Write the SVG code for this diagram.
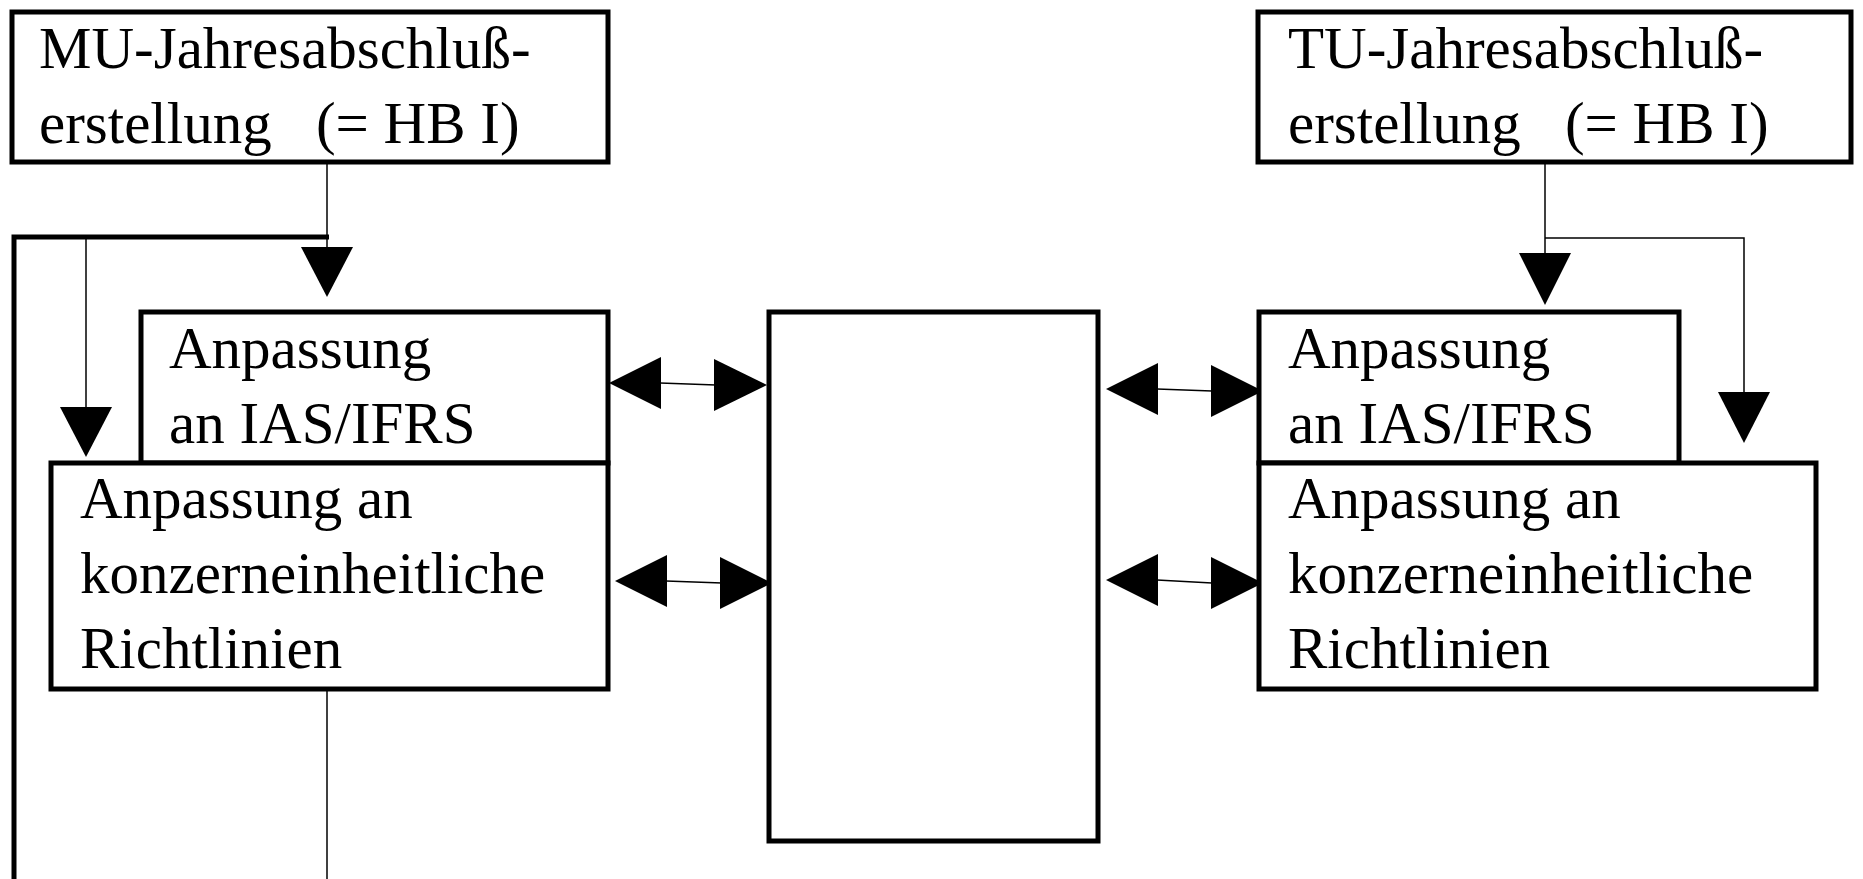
<svg xmlns="http://www.w3.org/2000/svg" width="1863" height="879" viewBox="0 0 1863 879">
<defs>
<style>
.box{fill:#fff;stroke:#000;stroke-width:5}
.thick{fill:none;stroke:#000;stroke-width:5}
.thin{fill:none;stroke:#000;stroke-width:1.5}
.head{fill:#000}
text{font-family:"Liberation Serif","Times New Roman",serif;font-size:59px;fill:#000;white-space:pre}
</style>
</defs>
<rect width="1863" height="879" fill="#fff"/>
<g id="connectors">
<!-- MU down -->
<polyline class="thin" points="327,162 327,250"/>
<polyline class="thick" points="329,237 14,237 14,879"/>
<polygon class="head" points="301,247 353,247 327,297"/>
<polyline class="thin" points="86,237 86,410"/>
<polygon class="head" points="60,407 112,407 86,457"/>
<polyline class="thin" points="327,689 327,879"/>
<!-- TU down -->
<polyline class="thin" points="1545,162 1545,256"/>
<polyline class="thin" points="1545,238 1744,238 1744,395"/>
<polygon class="head" points="1519,253 1571,253 1545,305"/>
<polygon class="head" points="1718,392 1770,392 1744,443"/>
<!-- double arrows left -->
<line class="thin" x1="660" y1="383" x2="716" y2="385" stroke="#888"/>
<polygon class="head" points="609,383 661,357 661,409"/>
<polygon class="head" points="767,385 714,359 714,411"/>
<line class="thin" x1="666" y1="581" x2="722" y2="583"/>
<polygon class="head" points="615,581 667,555 667,607"/>
<polygon class="head" points="772,583 720,557 720,609"/>
<!-- double arrows right -->
<line class="thin" x1="1157" y1="389" x2="1212" y2="391"/>
<polygon class="head" points="1106,389 1158,363 1158,415"/>
<polygon class="head" points="1263,391 1211,365 1211,417"/>
<line class="thin" x1="1157" y1="580" x2="1212" y2="583"/>
<polygon class="head" points="1106,580 1158,554 1158,606"/>
<polygon class="head" points="1263,583 1211,557 1211,609"/>
</g>
<g id="mu">
<rect class="box" x="12" y="12" width="596" height="150"/>
<text x="39" y="68">MU-Jahresabschluß-</text>
<text x="39" y="143">erstellung   (= HB I)</text>
</g>
<g id="tu">
<rect class="box" x="1258" y="12" width="593" height="150"/>
<text x="1288" y="68">TU-Jahresabschluß-</text>
<text x="1288" y="143">erstellung   (= HB I)</text>
</g>
<g id="mu-ias">
<rect class="box" x="141" y="312" width="467" height="151"/>
<text x="169" y="368">Anpassung</text>
<text x="169" y="443">an IAS/IFRS</text>
</g>
<g id="mu-konzern">
<rect class="box" x="51" y="463" width="557" height="226"/>
<text x="80" y="518">Anpassung an</text>
<text x="80" y="593">konzerneinheitliche</text>
<text x="80" y="668">Richtlinien</text>
</g>
<g id="center">
<rect class="box" x="769" y="312" width="329" height="529"/>
</g>
<g id="tu-ias">
<rect class="box" x="1259" y="312" width="420" height="151"/>
<text x="1288" y="368">Anpassung</text>
<text x="1288" y="443">an IAS/IFRS</text>
</g>
<g id="tu-konzern">
<rect class="box" x="1259" y="463" width="557" height="226"/>
<text x="1288" y="518">Anpassung an</text>
<text x="1288" y="593">konzerneinheitliche</text>
<text x="1288" y="668">Richtlinien</text>
</g>
</svg>
